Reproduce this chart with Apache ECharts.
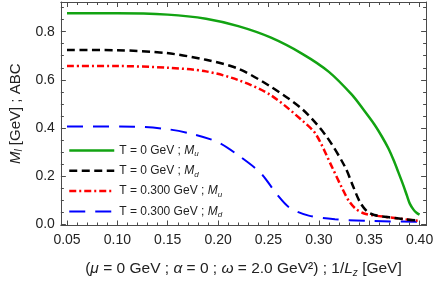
<!DOCTYPE html>
<html><head><meta charset="utf-8">
<script src="https://cdn.jsdelivr.net/npm/echarts@6/dist/echarts.min.js"></script>
<style>html,body{margin:0;padding:0;background:#fff}#c{width:436px;height:283px}</style>
</head><body><div id="c"></div>
<script>
var xGreen = [0.05,0.10,0.15,0.188,0.220,0.252,0.284,0.310,0.333,0.345,0.355,0.363,0.369,0.3742,0.379,0.384,0.3875,0.3903,0.394,0.397,0.40];
var yGreen = [0.877,0.877,0.871,0.854,0.823,0.776,0.707,0.633,0.537,0.472,0.415,0.361,0.315,0.266,0.215,0.160,0.118,0.085,0.060,0.047,0.039];
var xBlack = [0.05,0.10,0.149,0.188,0.220,0.252,0.284,0.307,0.326,0.334,0.341,0.348,0.355,0.370,0.385,0.40];
var yBlack = [0.724,0.723,0.711,0.683,0.646,0.572,0.476,0.368,0.238,0.157,0.090,0.052,0.038,0.028,0.020,0.014];
var xRed = [0.05,0.10,0.15,0.188,0.220,0.252,0.284,0.297,0.313,0.323,0.330,0.337,0.345,0.355,0.370,0.385,0.40];
var yRed = [0.657,0.657,0.650,0.635,0.599,0.537,0.429,0.374,0.238,0.150,0.095,0.062,0.044,0.036,0.028,0.020,0.013];
var xBlue = [0.05,0.117,0.149,0.175,0.200,0.220,0.2425,0.2585,0.271,0.290,0.316,0.350,0.40];
var yBlue = [0.406,0.405,0.395,0.374,0.340,0.286,0.211,0.123,0.068,0.035,0.020,0.013,0.009];
var legendNames = ['T = 0 GeV ; M_u','T = 0 GeV ; M_d','T = 0.300 GeV ; M_u','T = 0.300 GeV ; M_d'];
var xTickValues = [0.05,0.10,0.15,0.20,0.25,0.30,0.35,0.40];
var yTickValues = [0.0,0.2,0.4,0.6,0.8];

function pairs(xs, ys){ return xs.map(function(x,i){ return [x, ys[i]]; }); }
var frameColor = '#4a4a4a';
var font = 'Liberation Sans, Arial, sans-serif';
function isTick(v, list){ return list.some(function(t){ return Math.abs(v-t) < 1e-6; }); }

function xAxisDef(pos){
  return {
    type:'value', position: pos, min:0.0439, max:0.4065, minInterval:0.05, maxInterval:0.05,
    axisLine:{show:true, onZero:false, lineStyle:{color:frameColor, width:1}},
    axisTick:{show:true, inside:true, length:5, lineStyle:{color:frameColor}},
    minorTick:{show:true, splitNumber:5, length:3, lineStyle:{color:frameColor}},
    splitLine:{show:false},
    axisLabel:{show: pos==='bottom', margin:8, color:'#222', fontSize:14, fontFamily:font,
      formatter:function(v){ return isTick(v,xTickValues) ? v.toFixed(2) : ''; }}
  };
}
function yAxisDef(pos){
  return {
    type:'value', position: pos, min:-0.006, max:0.9235, minInterval:0.2, maxInterval:0.2,
    axisLine:{show:true, onZero:false, lineStyle:{color:frameColor, width:1}},
    axisTick:{show:true, inside:true, length:5, lineStyle:{color:frameColor}},
    minorTick:{show:true, splitNumber:4, length:3, lineStyle:{color:frameColor}},
    splitLine:{show:false},
    axisLabel:{show: pos==='left', margin:6, color:'#222', fontSize:14, fontFamily:font,
      formatter:function(v){ return isTick(v,yTickValues) ? v.toFixed(1) : ''; }}
  };
}
function richSet(size, sub){
  return {
    t:{fontFamily:font, fontSize:size, color:'#222', lineHeight:size+3},
    g:{fontFamily:font, fontSize:size, color:'#222', fontStyle:'italic', lineHeight:size+3},
    s:{fontFamily:font, fontSize:sub, color:'#222', fontStyle:'italic', lineHeight:sub, verticalAlign:'bottom'}
  };
}
var xb = xAxisDef('bottom');
xb.name = '{t|(}{g|\u03bc}{t| = 0 GeV ; }{g|\u03b1}{t| = 0 ; }{g|\u03c9}{t| = 2.0 GeV\u00b2) ; 1/}{g|L}{s|z}{t| [GeV]}';
xb.nameLocation = 'middle'; xb.nameGap = 34;
xb.nameTextStyle = {fontFamily:font, fontSize:15.5, color:'#222', rich:richSet(15.5,10)};
var yl = yAxisDef('left');
yl.name = '{g|M}{s|l}{t| [GeV] ; ABC}';
yl.nameLocation = 'middle'; yl.nameGap = 34; yl.nameRotate = 90;
yl.nameTextStyle = {fontFamily:font, fontSize:15, color:'#222', rich:richSet(15,10)};
var xt = xAxisDef('top'); var yr = yAxisDef('right');

var colors = ['#12a312','#000000','#ff0000','#0000ff'];
var dashes = ['solid',[8,4.5],[7,3,2,3],[16,10]];
var widths = [2.5,2.5,2.5,2];
var datas = [pairs(xGreen,yGreen), pairs(xBlack,yBlack), pairs(xRed,yRed), pairs(xBlue,yBlue)];

var series = datas.map(function(d,i){
  return {name:legendNames[i], type:'line', data:d, xAxisIndex:0, yAxisIndex:0,
    symbol:'none', showSymbol:false, smooth:0.3, z: 10-i,
    lineStyle:{color:colors[i], width:widths[i], type:dashes[i]},
    itemStyle:{color:colors[i]}};
});

var chart = echarts.init(document.getElementById('c'), null, {renderer:'canvas'});
chart.setOption({
  animation:false,
  grid:{left:51, right:9.3, top:2, bottom:53, containLabel:false},
  xAxis:[xb, xt],
  yAxis:[yl, yr],
  legend:{show:true, orient:'vertical', left:68, top:144.5, padding:0, itemWidth:45, itemHeight:14, itemGap:6.8,
    data:legendNames.map(function(n,i){ return {name:n, lineStyle:{width:widths[i], color:colors[i], type:dashes[i]}}; }),
    itemStyle:{color:'transparent', borderColor:'transparent', borderWidth:0, opacity:0},
    textStyle:{fontFamily:font, fontSize:12, color:'#222', rich:richSet(12,8)},
    formatter:function(n){ var p = n.split('M_'); return '{t|'+p[0]+'}{g|M}{s|'+p[1]+'}'; }
  },
  series: series
});
</script></body></html>
